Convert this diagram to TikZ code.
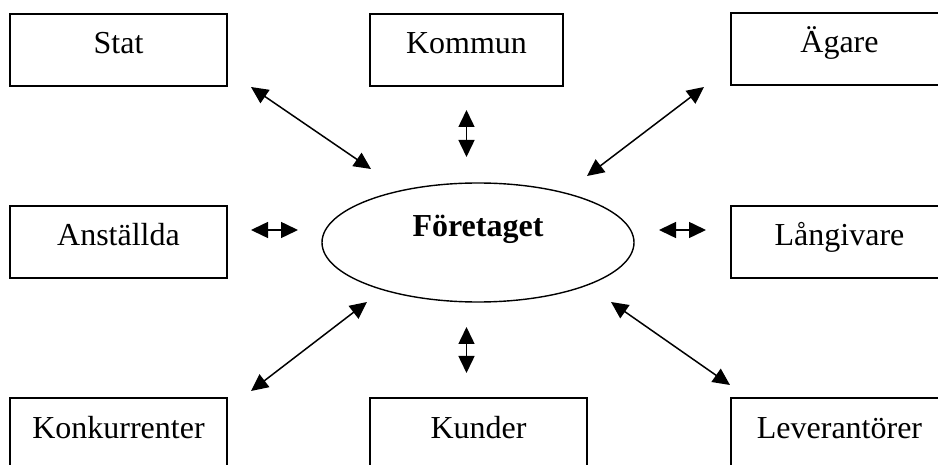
\documentclass[tikz,border=0pt]{standalone}
\usepackage{fontspec}
\setmainfont{Liberation Serif}
\usetikzlibrary{arrows.meta,shapes.geometric}

\tikzset{
  party/.style={draw, line width=1.4pt, rectangle, minimum width=217pt, minimum height=72pt,
    inner sep=0pt, font=\fontsize{32}{36}\selectfont, text height=30pt, text depth=22pt},
  centre/.style={draw, line width=1.4pt, ellipse, minimum width=312pt, minimum height=119pt,
    inner sep=0pt, font=\fontsize{32}{36}\selectfont\bfseries, text height=22pt, text depth=33pt},
  link/.style={line width=1.5pt, {Triangle[length=17pt,width=16pt]}-{Triangle[length=17pt,width=16pt]}}
}

\begin{document}
\begin{tikzpicture}[x=1pt,y=-1pt]
  \clip (0,0) rectangle (938,465);
  \fill[white] (0,0) rectangle (938,465);

  % centre
  \node[centre] (firm) at (478,242.5) {Företaget};

  % surrounding parties
  \node[party] (stat)  at (118.5,50)  {Stat};
  \node[party] (komm)  at (466.5,50)  [minimum width=193pt] {Kommun};
  \node[party] (agare) at (839.5,49)  {Ägare};
  \node[party] (anst)  at (118.5,242) {Anställda};
  \node[party] (lang)  at (839.5,242) {Långivare};
  \node[party] (konk)  at (118.5,434) {Konkurrenter};
  \node[party] (kund)  at (478.5,434) {Kunder};
  \node[party] (lev)   at (839.5,434) {Leverantörer};

  % arrow end points
  \coordinate (statA) at (251,87);   \coordinate (statB) at (371,169);
  \coordinate (kommA) at (466.5,110); \coordinate (kommB) at (466.5,157);
  \coordinate (agA)   at (704,87);   \coordinate (agB)   at (587,176);
  \coordinate (anA)   at (251,230);  \coordinate (anB)   at (298,230);
  \coordinate (laA)   at (659,230);  \coordinate (laB)   at (706,230);
  \coordinate (koA)   at (251,391);  \coordinate (koB)   at (367,302);
  \coordinate (kuA)   at (466.5,327); \coordinate (kuB)   at (466.5,373);
  \coordinate (leA)   at (611,302);  \coordinate (leB)   at (730,385);

  % two-way relations
  \draw[link] (statA) -- (statB);
  \draw[link] (kommA) -- (kommB);
  \draw[link] (agA) -- (agB);
  \draw[link] (anA) -- (anB);
  \draw[link] (laA) -- (laB);
  \draw[link] (koA) -- (koB);
  \draw[link] (kuA) -- (kuB);
  \draw[link] (leA) -- (leB);
\end{tikzpicture}
\end{document}
